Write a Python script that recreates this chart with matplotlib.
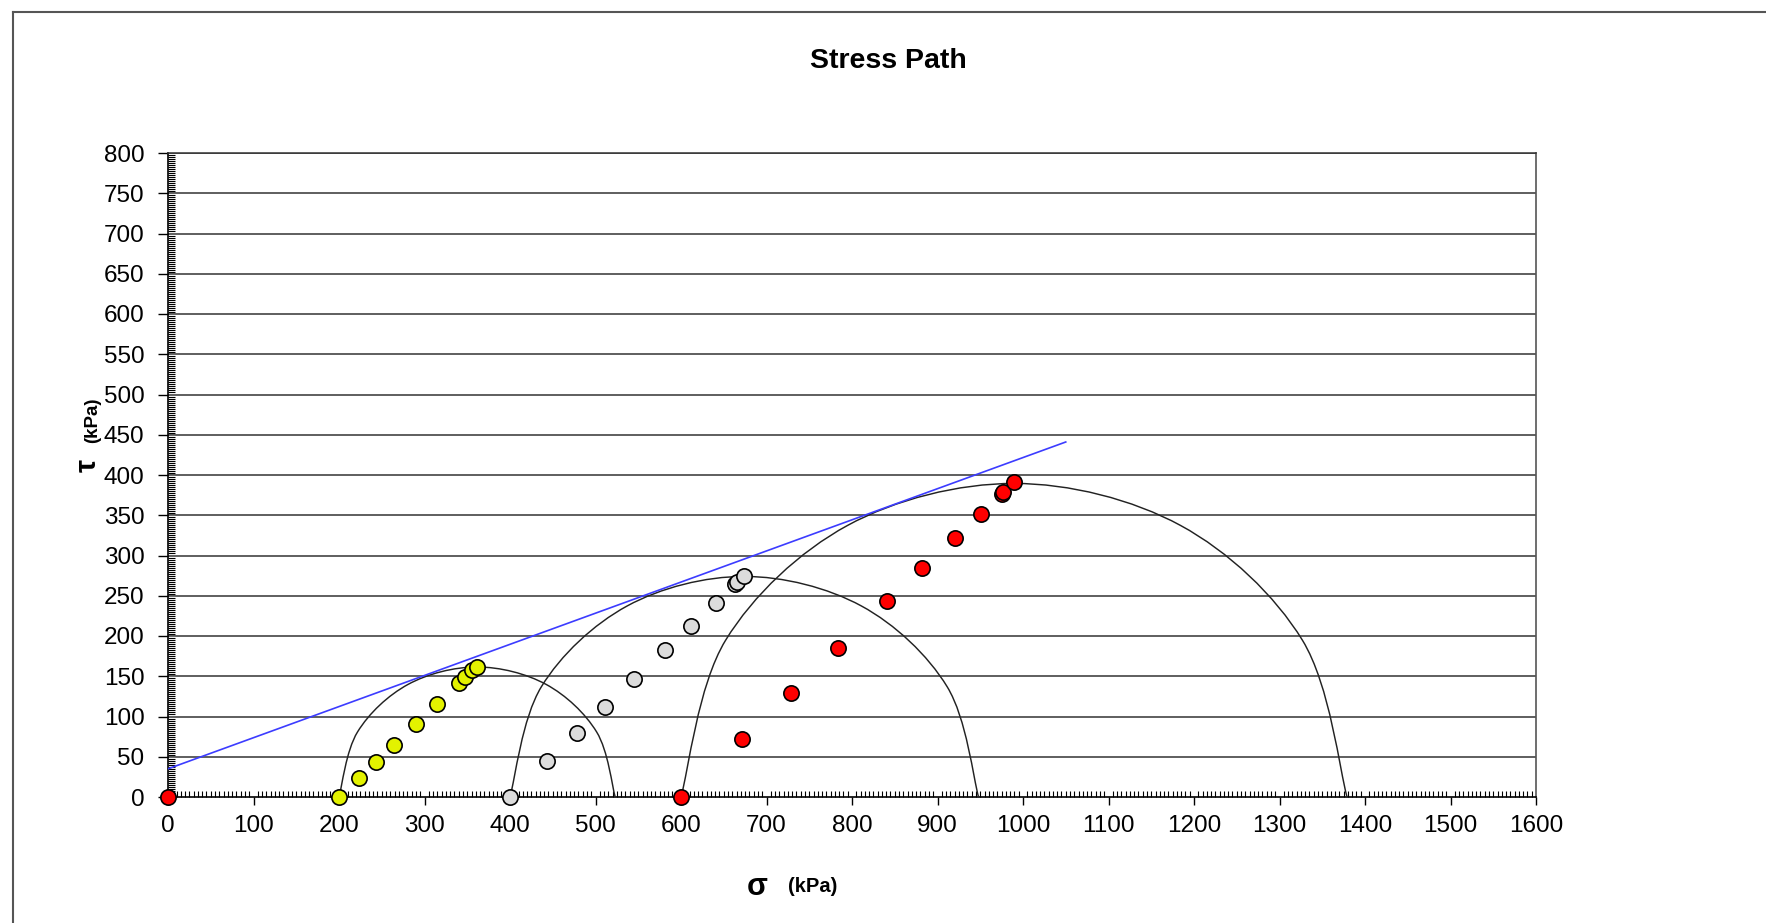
import numpy as np
import matplotlib
matplotlib.use("Agg")
import matplotlib.pyplot as plt
from matplotlib.path import Path
from matplotlib.patches import PathPatch
from matplotlib.ticker import MultipleLocator
from matplotlib.lines import Line2D

plt.rcParams['font.family'] = ['Liberation Sans', 'DejaVu Sans']

# ---- data ----
yellow_sigma = [200, 223, 243, 264, 290, 315, 340, 347, 356, 361]
yellow_tau = [0, 24, 43, 65, 91, 116, 141, 149, 158, 162]

gray_sigma = [400, 443, 478, 511, 545, 581, 612, 641, 663, 665, 674]
gray_tau = [0, 45, 79, 112, 146, 182, 213, 241, 264, 267, 275]

red_sigma = [600, 671, 729, 784, 841, 882, 921, 951, 975, 977, 990]
red_tau = [0, 72, 129, 185, 243, 284, 322, 352, 377, 379, 391]

origin_sigma = [0]
origin_tau = [0]

circle_sigma3 = [200, 400, 600]
circle_sigma1 = [523, 948, 1379]
circle_step_deg = 30

env_sigma = [0, 1050]
env_tau = [35, 441]

x_ticks = list(range(0, 1601, 100))
y_ticks = list(range(0, 801, 50))

# ---- figure ----
W, H = 1766, 923
fig = plt.figure(figsize=(W / 100, H / 100), dpi=100)
L, R, T, B = 168, 1536, 153, 797
ax = fig.add_axes([L / W, 1 - B / H, (R - L) / W, (B - T) / H])

ax.set_xlim(0, 1600)
ax.set_ylim(0, 800)

# gridlines
for yv in y_ticks[1:]:
    ax.axhline(yv, color='#333333', lw=1.1, zorder=1)


def smooth_path(px, py):
    """Catmull-Rom style smoothed curve through points (like a spreadsheet smoothed line)."""
    pts = np.column_stack([px, py])
    n = len(pts)
    verts = [pts[0]]
    codes = [Path.MOVETO]
    for i in range(n - 1):
        p0 = pts[i - 1] if i > 0 else pts[i]
        p1 = pts[i]
        p2 = pts[i + 1]
        p3 = pts[i + 2] if i + 2 < n else pts[i + 1]
        c1 = p1 + (p2 - p0) / 6.0
        c2 = p2 - (p3 - p1) / 6.0
        verts += [c1, c2, p2]
        codes += [Path.CURVE4] * 3
    return Path(verts, codes)


for s3, s1 in zip(circle_sigma3, circle_sigma1):
    c = (s3 + s1) / 2.0
    r = (s1 - s3) / 2.0
    th = np.radians(np.arange(0, 181, circle_step_deg))
    cx = c + r * np.cos(th)
    cy = r * np.sin(th)
    path = smooth_path(cx, cy)
    ax.add_patch(PathPatch(path, facecolor='none', edgecolor='#222222', lw=1.05, zorder=3))

# failure envelope
ax.plot(env_sigma, env_tau, color='#3c3cff', lw=1.2, zorder=4)

ms = 11
mew = 1.2
ax.plot(yellow_sigma, yellow_tau, 'o', ms=ms, mfc='#e3f200', mec='black', mew=mew, zorder=5, clip_on=False)
ax.plot(gray_sigma, gray_tau, 'o', ms=ms, mfc='#dcdcdc', mec='black', mew=mew, zorder=5, clip_on=False)
ax.plot(red_sigma, red_tau, 'o', ms=ms, mfc='#ff0000', mec='black', mew=mew, zorder=5, clip_on=False)
ax.plot(origin_sigma, origin_tau, 'o', ms=ms, mfc='#ff0000', mec='black', mew=mew, zorder=6, clip_on=False)

# spines
for s in ['left', 'bottom']:
    ax.spines[s].set_color('black')
    ax.spines[s].set_linewidth(1.2)
ax.spines['right'].set_color('#555555')
ax.spines['right'].set_linewidth(1.2)
ax.spines['top'].set_color('#333333')
ax.spines['top'].set_linewidth(1.1)

# ticks
ax.set_xticks(x_ticks)
ax.set_yticks(y_ticks)
ax.xaxis.set_minor_locator(MultipleLocator(5))
ax.yaxis.set_minor_locator(MultipleLocator(2.5))
ax.tick_params(axis='x', which='major', direction='out', length=6, width=1.0,
               labelsize=17.5, pad=7, colors='black')
ax.tick_params(axis='x', which='minor', direction='in', length=4, width=0.8)
ax.tick_params(axis='y', which='major', direction='out', length=7, width=1.0,
               labelsize=17.5, pad=10, colors='black')
ax.tick_params(axis='y', which='minor', direction='in', length=5, width=0.8)

# axis labels
fig.text(757 / W, 1 - 887 / H, 'σ', fontsize=22, fontweight='bold', ha='center', va='center')
fig.text(813 / W, 1 - 887 / H, '(kPa)', fontsize=14.5, fontweight='bold', ha='center', va='center')
fig.text(88 / W, 1 - 466 / H, 'τ', fontsize=21, fontweight='bold', ha='center', va='center', rotation=90)
fig.text(93 / W, 1 - 420 / H, '(kPa)', fontsize=13.5, fontweight='bold', ha='center', va='center', rotation=90)

# title
fig.text(888 / W, 1 - 61 / H, 'Stress Path', fontsize=20.5, fontweight='bold', ha='center', va='center')

# outer chart-area border (top and left edges visible)
fig.add_artist(Line2D([13 / W, 1.0], [1 - 12 / H, 1 - 12 / H], transform=fig.transFigure,
                      color='#555555', lw=1.5))
fig.add_artist(Line2D([13 / W, 13 / W], [0.0, 1 - 12 / H], transform=fig.transFigure,
                      color='#555555', lw=1.5))

fig.savefig('out.png', dpi=100, facecolor='white')
